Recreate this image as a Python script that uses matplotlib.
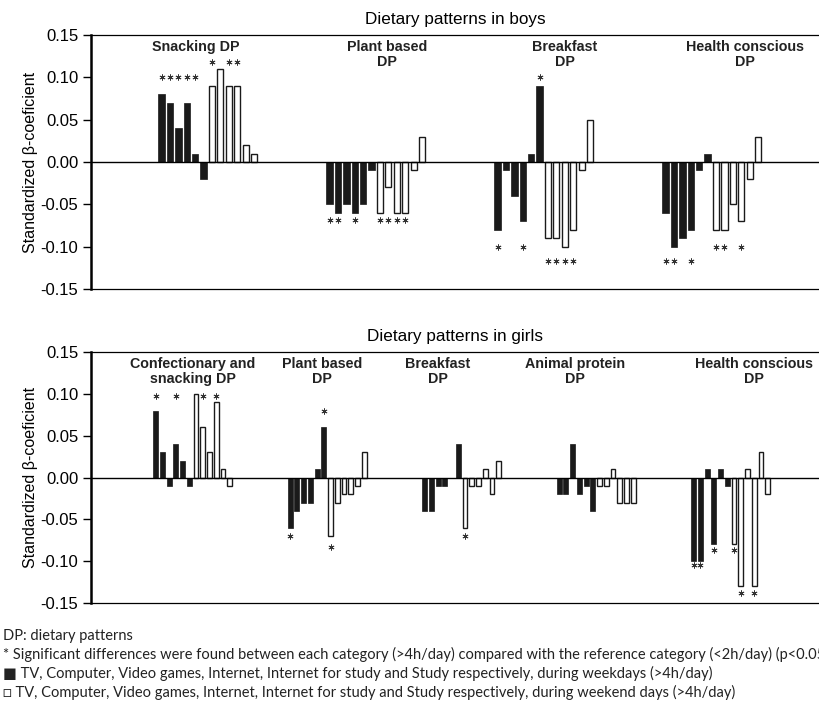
import matplotlib.pyplot as plt
from matplotlib.ticker import FormatStrFormatter

plt.rcParams['font.family'] = ['Liberation Sans', 'DejaVu Sans']

# bar order inside each group: TV, Computer, Video games, Internet,
# Internet for study, Study -> weekdays (black) then weekend days (white)
boys_groups = ['Snacking DP', 'Plant based\nDP', 'Breakfast\nDP', 'Health conscious\nDP']
boys_weekday = [
    [0.08, 0.07, 0.04, 0.07, 0.01, -0.02],
    [-0.05, -0.06, -0.05, -0.06, -0.05, -0.01],
    [-0.08, -0.01, -0.04, -0.07, 0.01, 0.09],
    [-0.06, -0.10, -0.09, -0.08, -0.01, 0.01],
]
boys_weekend = [
    [0.09, 0.11, 0.09, 0.09, 0.02, 0.01],
    [-0.06, -0.03, -0.06, -0.06, -0.01, 0.03],
    [-0.09, -0.09, -0.10, -0.08, -0.01, 0.05],
    [-0.08, -0.08, -0.05, -0.07, -0.02, 0.03],
]
# significant bars: (group, bar index 0-11, height of the asterisk)
boys_stars = [
    (0, 0, 0.10), (0, 1, 0.10), (0, 2, 0.10), (0, 3, 0.10), (0, 4, 0.10),
    (0, 6, 0.118), (0, 8, 0.118), (0, 9, 0.118),
    (1, 0, -0.068), (1, 1, -0.068), (1, 3, -0.068),
    (1, 6, -0.068), (1, 7, -0.068), (1, 8, -0.068), (1, 9, -0.068),
    (2, 0, -0.10), (2, 3, -0.10), (2, 5, 0.10),
    (2, 6, -0.117), (2, 7, -0.117), (2, 8, -0.117), (2, 9, -0.117),
    (3, 0, -0.117), (3, 1, -0.117), (3, 3, -0.117),
    (3, 6, -0.10), (3, 7, -0.10), (3, 9, -0.10),
]
boys_title_x = [0.93, 2.067, 3.126, 4.198]

girls_groups = ['Confectionary and\nsnacking DP', 'Plant based\nDP', 'Breakfast\nDP',
                'Animal protein\nDP', 'Health conscious\nDP']
girls_weekday = [
    [0.08, 0.03, -0.01, 0.04, 0.02, -0.01],
    [-0.06, -0.04, -0.03, -0.03, 0.01, 0.06],
    [-0.04, -0.04, -0.01, -0.01, 0.0, 0.04],
    [-0.02, -0.02, 0.04, -0.02, -0.01, -0.04],
    [-0.10, -0.10, 0.01, -0.08, 0.01, -0.01],
]
girls_weekend = [
    [0.10, 0.06, 0.03, 0.09, 0.01, -0.01],
    [-0.07, -0.03, -0.02, -0.02, -0.01, 0.03],
    [-0.06, -0.01, -0.01, 0.01, -0.02, 0.02],
    [-0.01, -0.01, 0.01, -0.03, -0.03, -0.03],
    [-0.08, -0.13, 0.01, -0.13, 0.03, -0.02],
]
girls_stars = [
    (0, 0, 0.097), (0, 3, 0.097), (0, 7, 0.097), (0, 9, 0.097),
    (1, 0, -0.07), (1, 5, 0.08), (1, 6, -0.083),
    (2, 6, -0.07),
    (4, 0, -0.105), (4, 1, -0.105), (4, 3, -0.087), (4, 6, -0.087),
    (4, 7, -0.138), (4, 9, -0.138),
]
girls_title_x = [1.0, 1.96, 2.824, 3.842, 5.173]

notes = [
    'DP: dietary patterns',
    '* Significant differences were found between each category (>4h/day) compared with '
    'the reference category (<2h/day) (p<0.05)',
    '\u25a0 TV, Computer, Video games, Internet, Internet for study and Study respectively, '
    'during weekdays (>4h/day)',
    '\u25a1 TV, Computer, Video games, Internet, Internet for study and Study respectively, '
    'during weekend days (>4h/day)',
]

STEP = 0.05


def draw_panel(ax, title, groups, weekday, weekend, stars, title_x, xlim):
    for g in range(len(groups)):
        vals = weekday[g] + weekend[g]
        xs = [g + 1 + (i - 5.5) * STEP for i in range(12)]
        ax.bar(xs[:6], vals[:6], width=0.038, color='#1a1a1a', edgecolor='#1a1a1a', lw=0.5)
        ax.bar(xs[6:], vals[6:], width=0.036, color='white', edgecolor='#1a1a1a', lw=1.0)
        ax.text(title_x[g], 0.144, groups[g], ha='center', va='top', fontsize=10.3,
                fontweight='bold', color='#222222', linespacing=1.05)
    for g, i, y in stars:
        ax.plot(g + 1 + (i - 5.5) * STEP, y, marker=(6, 2, 0), ms=4.3, mew=0.6,
                color='#333333')
    ax.axhline(0, color='black', lw=1.0)
    ax.set_xlim(*xlim)
    ax.set_ylim(-0.15, 0.15)
    ax.set_yticks([-0.15, -0.10, -0.05, 0.0, 0.05, 0.10, 0.15])
    ax.yaxis.set_major_formatter(FormatStrFormatter('%.2f'))
    ax.set_xticks([])
    ax.tick_params(axis='y', length=6, width=1, labelsize=12, direction='out', pad=3)
    ax.spines['left'].set_linewidth(1.8)
    ax.spines['top'].set_linewidth(0.9)
    ax.spines['bottom'].set_linewidth(0.9)
    ax.spines['right'].set_visible(False)
    ax.set_title(title, fontsize=12.3, pad=8)
    ax.set_ylabel('Standardized \u03b2-coeficient', fontsize=11.5, labelpad=2)


fig = plt.figure(figsize=(8.19, 7.02), dpi=100)
ax1 = fig.add_axes([0.1111, 0.5883, 0.889, 0.3618])
ax2 = fig.add_axes([0.1111, 0.1410, 0.889, 0.3575])

draw_panel(ax1, 'Dietary patterns in boys', boys_groups, boys_weekday, boys_weekend,
           boys_stars, boys_title_x, (0.305, 4.638))
draw_panel(ax2, 'Dietary patterns in girls', girls_groups, girls_weekday, girls_weekend,
           girls_stars, girls_title_x, (0.244, 5.657))

for k, line in enumerate(notes):
    fig.text(0.004, 1 - (636 + 18.7 * k) / 702, line, fontsize=10.5, va='center',
             family=['Lato', 'DejaVu Sans'], color='#222222')

fig.savefig('out.png', dpi=100)
